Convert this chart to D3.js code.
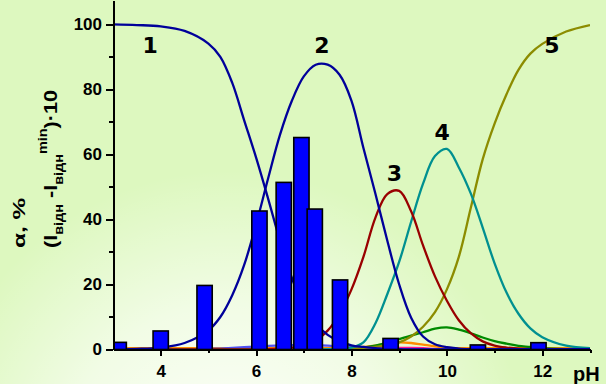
<!DOCTYPE html>
<html lang="uk">
<head>
<meta charset="utf-8">
<title>α, % vs pH</title>
<script src="https://cdn.jsdelivr.net/npm/d3@7"></script>
<style>
body { margin: 0; background: #fff; }
.axis path, .axis line { fill: none; stroke: #000; stroke-width: 2; shape-rendering: crispEdges; }
.axis text { font-family: "Liberation Sans", Arial, sans-serif; font-weight: bold; font-size: 17px; fill: #000; }
.lbl { font-family: "DejaVu Sans", sans-serif; font-weight: bold; font-size: 22px; fill: #000; }
</style>
</head>
<body>
<script>
// pH grid shared by all curves
var phGrid = [3, 3.5, 4, 4.5, 5, 5.25, 5.5, 5.75, 6, 6.25, 6.5, 6.75, 7, 7.25, 7.5, 7.75, 8, 8.25, 8.5, 8.75,
              9, 9.25, 9.5, 9.75, 10, 10.25, 10.5, 10.75, 11, 11.25, 11.5, 11.75, 12, 12.5, 13];

// curves (α, %)
var curve1 = [100, 99.8, 99.4, 98, 94.1, 90, 82, 70.5, 59, 46.5, 33.5, 22, 13.5, 8, 4.5, 2.5, 1.3, 0.8, 0.4, 0.2,
              0.1, 0, 0, 0, 0, 0, 0, 0, 0, 0, 0, 0, 0, 0, 0];
var curve2 = [0.1, 0.2, 0.6, 2, 5.9, 10, 16.7, 26, 38.5, 52.5, 66, 76.5, 84, 87.6, 87.6, 84.5, 76.5, 62, 48, 33.5,
              20, 9.8, 4, 1.6, 0.7, 0.3, 0.1, 0, 0, 0, 0, 0, 0, 0, 0];
var curve3 = [0, 0, 0, 0, 0, 0, 0, 0, 0, 0.1, 0.3, 0.6, 1.2, 2.8, 5.8, 11, 18.5, 28.5, 40.5, 47.8,
              48.8, 42.5, 32, 22.5, 15, 9, 5, 2.5, 1.2, 0.6, 0.3, 0.1, 0, 0, 0];
var curve4 = [0, 0, 0, 0, 0, 0, 0, 0, 0, 0, 0, 0, 0, 0, 0.1, 0.2, 0.6, 2.2, 8, 17,
              27, 39.3, 51, 59.5, 61.7, 56, 48, 37.5, 26.5, 17.5, 11, 6.5, 3.8, 1.2, 0.4];
var curve5 = [0, 0, 0, 0, 0, 0, 0, 0, 0, 0, 0, 0, 0, 0, 0, 0, 0.2, 0.5, 0.8, 1.4,
              2.2, 4, 7, 11.5, 18.5, 28.5, 43.5, 58.5, 69.5, 78.5, 86, 91, 94, 97.8, 99.8];
var curveGreen = [0, 0, 0, 0, 0, 0, 0, 0, 0, 0, 0, 0, 0, 0, 0, 0, 0.3, 0.6, 1.2, 2.1,
                  3.2, 4.3, 5.3, 6.4, 6.8, 6.1, 5, 3.7, 2.6, 1.8, 1.1, 0.8, 0.4, 0.1, 0];
var curveOrange = [0.4, 0.4, 0.4, 0.4, 0.4, 0.4, 0.4, 0.4, 0.4, 0.4, 0.4, 0.4, 0.4, 0.4, 0.4, 0.4, 0.5, 0.8, 1.2, 1.8,
                   2.2, 2, 1.5, 1, 0.6, 0.4, 0.4, 0.4, 0.4, 0.4, 0.4, 0.4, 0.4, 0.4, 0.4];
var curveMagenta = [0, 0, 0, 0, 0, 0, 0, 0, 0, 0, 0, 0, 0, 0, 0, 0, 0, 0.1, 0.3, 0.4,
                    0.5, 0.5, 0.4, 0.2, 0.1, 0, 0, 0, 0, 0, 0, 0, 0, 0, 0];
var curveViolet = [0, 0, 0, 0, 0.2, 0.3, 0.5, 0.7, 0.9, 1.1, 1.2, 1.3, 1.3, 1.3, 1.2, 1, 0.8, 0.5, 0.3, 0.1,
                   0, 0, 0, 0, 0, 0, 0, 0, 0, 0, 0, 0, 0, 0, 0];

// bars: (I_відн - I_відн^min)·10
var barPH = [3.12, 4.0, 4.92, 6.07, 6.58, 6.95, 7.23, 7.76, 8.82, 10.65, 11.92];
var barVal = [2.2, 5.7, 19.7, 42.6, 51.4, 65.2, 43.2, 21.4, 3.4, 1.4, 2.1];

var xTicks = [4, 6, 8, 10, 12];
var xMinor = [5, 7, 9, 11, 13];
var yTicks = [0, 20, 40, 60, 80, 100];
var yMinor = [10, 30, 50, 70, 90];

var curveLabels = ["1", "2", "3", "4", "5"];
var labelPH = [3.78, 7.38, 8.9, 9.9, 12.2];
var labelVal = [91.3, 91.3, 51.7, 64.5, 91.3];

var w = 606, h = 384;
var svg = d3.select("body").append("svg").attr("width", w).attr("height", h);

// background: light green with a whitish glow at bottom left
var defs = svg.append("defs");
var glow = defs.append("radialGradient").attr("id", "glow")
    .attr("cx", 230).attr("cy", 470).attr("r", 300).attr("gradientUnits", "userSpaceOnUse");
glow.append("stop").attr("offset", "0").attr("stop-color", "#ffffff").attr("stop-opacity", 0.95);
glow.append("stop").attr("offset", "0.55").attr("stop-color", "#ffffff").attr("stop-opacity", 0.6);
glow.append("stop").attr("offset", "1").attr("stop-color", "#ffffff").attr("stop-opacity", 0);
svg.append("rect").attr("width", w).attr("height", h).attr("fill", "#ddf8bf");
svg.append("rect").attr("width", w).attr("height", h).attr("fill", "url(#glow)");

var x = d3.scaleLinear().domain([3, 13]).range([113, 590]);
var y = d3.scaleLinear().domain([0, 107.5]).range([349.5, 0]);

defs.append("clipPath").attr("id", "plot")
    .append("rect").attr("x", 113).attr("y", 0).attr("width", 477).attr("height", 350);

var line = d3.line()
    .x(function(d, i) { return x(phGrid[i]); })
    .y(function(d) { return y(d); })
    .curve(d3.curveCatmullRom.alpha(0.5));

var series = [
  {v: curveMagenta, c: "#ff1493"},
  {v: curveOrange, c: "#ff8c00"},
  {v: curveGreen, c: "#008a00"},
  {v: curveViolet, c: "#5050f0"},
  {v: curve5, c: "#8c8c00"},
  {v: curve4, c: "#009090"},
  {v: curve3, c: "#990000"},
  {v: curve2, c: "#00009a"},
  {v: curve1, c: "#00009a"}
];

var g = svg.append("g").attr("clip-path", "url(#plot)");
g.selectAll("path.curve")
  .data(series)
  .enter()
  .append("path")
  .attr("class", "curve")
  .attr("d", function(s) { return line(s.v); })
  .attr("fill", "none")
  .attr("stroke", function(s) { return s.c; })
  .attr("stroke-width", 2.3);

//bars on top of the curves
var bw = 0.32;
g.selectAll("rect.bar")
  .data(barPH)
  .enter()
  .append("rect")
  .attr("class", "bar")
  .attr("x", function(d) { return x(d - bw / 2); })
  .attr("width", function(d) { return x(d + bw / 2) - x(d - bw / 2); })
  .attr("y", function(d, i) { return y(barVal[i]); })
  .attr("height", function(d, i) { return y(0) - y(barVal[i]); })
  .attr("fill", "#0000ff")
  .attr("stroke", "#000")
  .attr("stroke-width", 1.6);

// axes
svg.append("g").attr("class", "axis").attr("transform", "translate(0," + y(0) + ")")
    .call(d3.axisBottom(x).tickValues(xTicks).tickSize(6).tickSizeOuter(0).tickPadding(9));
svg.append("g").attr("class", "axis").attr("transform", "translate(0," + y(0) + ")")
    .call(d3.axisBottom(x).tickValues(xMinor).tickSize(3).tickFormat(""))
    .select(".domain").remove();

svg.append("g").attr("class", "axis").attr("transform", "translate(" + x(3) + ",0)")
    .call(d3.axisLeft(y).tickValues(yTicks).tickSize(7).tickSizeOuter(0).tickPadding(4));
svg.append("g").attr("class", "axis").attr("transform", "translate(" + x(3) + ",0)")
    .call(d3.axisLeft(y).tickValues(yMinor).tickSize(4).tickFormat(""))
    .select(".domain").remove();

// curve numbers
svg.selectAll("text.lbl")
  .data(curveLabels)
  .enter()
  .append("text")
  .attr("class", "lbl")
  .attr("x", function(d, i) { return x(labelPH[i]); })
  .attr("y", function(d, i) { return y(labelVal[i]); })
  .attr("text-anchor", "middle")
  .text(function(d) { return d; });

// pH
svg.append("text")
  .attr("x", 573).attr("y", 381)
  .style("font-family", "Liberation Sans, Arial, sans-serif")
  .style("font-weight", "bold").style("font-size", "20px")
  .text("pH");

// y titles (rotated, stretched like the original)
svg.append("text")
  .attr("transform", "translate(25,248) rotate(-90)")
  .style("font-family", "Liberation Sans, Arial, sans-serif")
  .style("font-weight", "bold").style("font-size", "17px")
  .attr("textLength", 50).attr("lengthAdjust", "spacingAndGlyphs")
  .text("α, %");

var t2 = svg.append("text")
  .attr("transform", "translate(57,248) rotate(-90)")
  .style("font-family", "Liberation Sans, Arial, sans-serif")
  .style("font-weight", "bold").style("font-size", "18px")
  .attr("textLength", 158).attr("lengthAdjust", "spacingAndGlyphs");
t2.append("tspan").text("(I");
t2.append("tspan").attr("dy", 6).style("font-size", "12px").text("відн");
t2.append("tspan").attr("dy", -6).text(" -I");
t2.append("tspan").attr("dy", 6).style("font-size", "12px").text("відн");
t2.append("tspan").attr("dy", -16).style("font-size", "12px").text("min");
t2.append("tspan").attr("dy", 10).text(")·10");
</script>
</body>
</html>
